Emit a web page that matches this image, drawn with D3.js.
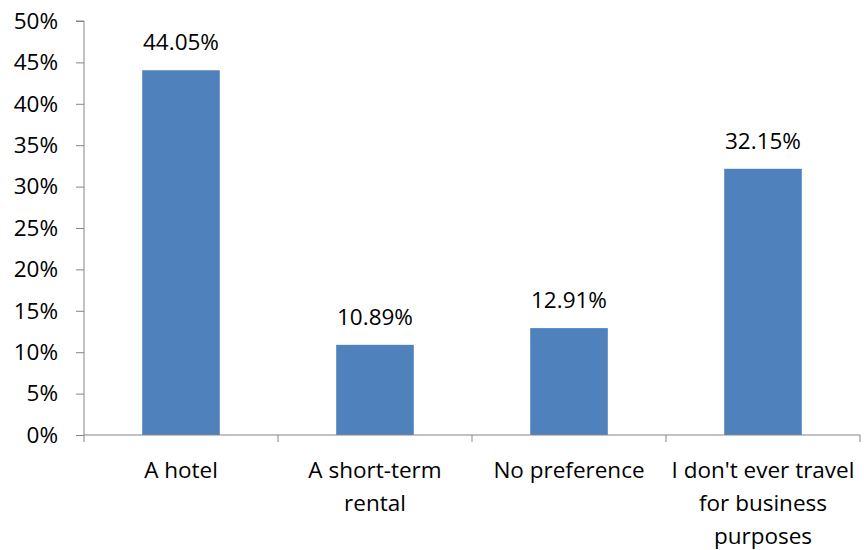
<!DOCTYPE html>
<html><head><meta charset="utf-8">
<script src="https://cdn.jsdelivr.net/npm/d3@7"></script>
<style>body{margin:0;background:#fff}svg text{font-family:"Open Sans",sans-serif;fill:#000}</style>
</head><body><svg id="c" width="864" height="550"></svg>
<script>
const categories = [["A hotel"],["A short-term","rental"],["No preference"],["I don't ever travel","for business","purposes"]];
const values = [44.05, 10.89, 12.91, 32.15];
const yTicks = [0,5,10,15,20,25,30,35,40,45,50];

const svg = d3.select("#c");
const m = {l:84, r:4, t:21, b:115};
const W = 864, H = 550;
const FS = 22.5;
const x = d3.scaleBand().domain(d3.range(categories.length)).range([m.l, W - m.r]).paddingInner(0.6).paddingOuter(0.3);
const y = d3.scaleLinear().domain([0,50]).range([H - m.b, m.t]);
const axisColor = "#868686";

// y axis
const ya = svg.append("g").attr("transform",`translate(${m.l},0)`)
  .call(d3.axisLeft(y).tickValues(yTicks).tickSize(8).tickPadding(18).tickFormat(d=>d+"%"));
ya.select(".domain").attr("stroke",axisColor).attr("d",`M-8,${y(50)}H0V${y(0)}`);
ya.selectAll(".tick line").attr("stroke",axisColor);
ya.selectAll(".tick text").attr("font-size",FS).attr("font-family","'Open Sans',sans-serif").attr("fill","#000");

// bars
svg.selectAll("rect.bar").data(values).join("rect").attr("class","bar")
  .attr("x",(d,i)=>x(i)).attr("width",x.bandwidth())
  .attr("y",d=>y(d)).attr("height",d=>y(0)-y(d)).attr("fill","#4F81BD");

// data labels
svg.selectAll("text.lbl").data(values).join("text").attr("class","lbl")
  .attr("x",(d,i)=>x(i)+x.bandwidth()/2).attr("y",d=>y(d)-20)
  .attr("text-anchor","middle").attr("font-size",FS).text(d=>d.toFixed(2)+"%");

// x axis
const step = x.step();
const bounds = d3.range(categories.length+1).map(i => m.l + i*step);
const xa = svg.append("g");
xa.append("path").attr("d",`M${m.l},${y(0)}H${W-m.r}`).attr("stroke",axisColor).attr("fill","none");
xa.selectAll("line").data(bounds).join("line")
  .attr("x1",d=>d).attr("x2",d=>d).attr("y1",y(0)).attr("y2",y(0)+7).attr("stroke",axisColor);

const cl = svg.selectAll("text.cat").data(categories).join("text").attr("class","cat")
  .attr("text-anchor","middle").attr("font-size",FS);
cl.each(function(lines,i){
  const t = d3.select(this);
  lines.forEach((s,j)=>t.append("tspan").attr("x",x(i)+x.bandwidth()/2).attr("y",y(0)+43+j*33).text(s));
});
</script></body></html>
